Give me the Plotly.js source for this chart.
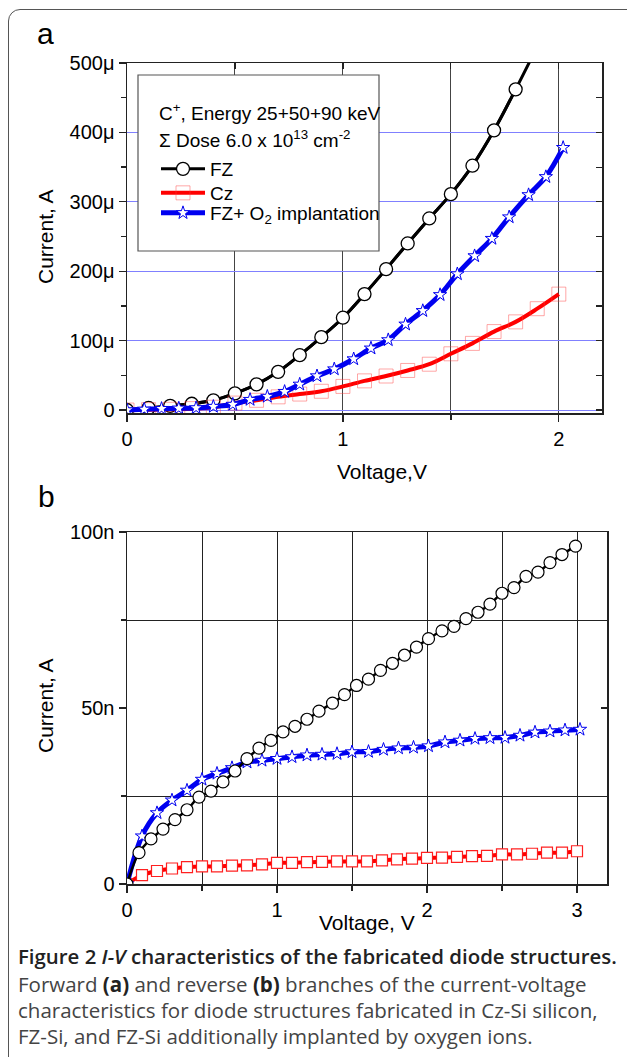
<!DOCTYPE html>
<html>
<head>
<meta charset="utf-8">
<script src="https://cdn.plot.ly/plotly-3.0.1.min.js"></script>
<style>
  html, body { margin: 0; padding: 0; background: #fff; width: 627px; height: 1057px; overflow: hidden; }
  #frame { position: absolute; left: 8px; top: 9px; width: 640px; height: 1080px;
           border: 1.5px solid #555; border-radius: 12px; box-sizing: border-box; }
  #chart { position: absolute; left: 0; top: 0; width: 627px; height: 1057px; }
  #cap { position: absolute; left: 18px; top: 941px; font-family: "Open Sans", sans-serif;
         font-size: 20.5px; line-height: 26px; color: #444; white-space: nowrap; }
  #cap .head { font-size: 20.4px; font-weight: 600; color: #222; line-height: 30px; }
  #cap b { color: #222; font-weight: 700; }
</style>
</head>
<body>
<div id="frame"></div>
<div id="chart"></div>
<div id="cap"><div class="head">Figure 2 <i>I-V</i> characteristics of the fabricated diode structures.</div>Forward <b>(a)</b> and reverse <b>(b)</b> branches of the current-voltage<br>characteristics for diode structures fabricated in Cz-Si silicon,<br>FZ-Si, and FZ-Si additionally implanted by oxygen ions.</div>
<script>
// ---------- Panel a (forward), current in µA ----------
const fzA_V = [0,0.1,0.2,0.3,0.4,0.5,0.6,0.7,0.8,0.9,1.0,1.1,1.2,1.3,1.4,1.5,1.6,1.7,1.8];
const fzA_I = [0,3,6,9,14,24,37,55,79,105,133,167,203,240,276,311,352,403,462];
const fzA_endV = [1.87];   // fitted curve continues to the top of the frame
const fzA_endI = [505];

const czA_V = [0,0.1,0.2,0.3,0.4,0.5,0.6,0.7,0.8,0.9,1.0,1.1,1.2,1.3,1.4,1.5,1.6,1.7,1.8,1.9,2.0];
const czA_I = [0,0.5,1,2,4,10,14,19,23,27,34,42,49,57,66,81,96,113,127,146,167];

const fzoA_V = [0,0.08,0.16,0.24,0.32,0.40,0.49,0.57,0.65,0.73,0.80,0.88,0.96,1.05,1.13,1.21,1.29,1.37,1.45,1.53,1.61,1.69,1.77,1.86,1.94,2.02];
const fzoA_I = [0,1,2,2.5,3,5,8,15,19.5,26.5,37,49,59,73.5,89,101,123.5,143,166,196,222,247,278,310,336,378];

const yTicksA = [0,100,200,300,400,500];
const yLabelsA = ['0','100\u03bc','200\u03bc','300\u03bc','400\u03bc','500\u03bc'];

// ---------- Panel b (reverse), current in nA ----------
const fzB_V = [0,0.08,0.16,0.24,0.32,0.40,0.48,0.56,0.64,0.72,0.80,0.88,0.96,1.04,1.12,1.20,1.28,1.37,1.45,1.53,1.61,1.69,1.77,1.85,1.93,2.01,2.10,2.18,2.26,2.34,2.42,2.50,2.58,2.66,2.74,2.82,2.90,2.99];
const fzB_I = [0,8.9,12.8,15.6,18.3,21.1,24.7,26.4,29.0,32.1,35.6,38.6,40.8,43.2,44.8,46.8,49.1,51.4,53.8,56.4,58.2,60.7,62.7,65.0,67.3,69.7,71.9,73.2,75.4,77.2,79.5,82.6,84.2,87.4,88.6,91.3,93.6,96.0];

const fzoB_V = [0,0.1,0.2,0.3,0.4,0.5,0.6,0.7,0.8,0.9,1.0,1.1,1.2,1.3,1.4,1.5,1.61,1.71,1.81,1.91,2.01,2.12,2.22,2.32,2.42,2.52,2.62,2.72,2.82,2.92,3.02];
const fzoB_I = [0,13.6,20.2,23.8,26.6,29.7,31.4,33.0,34.6,35.1,35.6,36.1,36.6,36.8,37.0,37.5,37.6,38.2,38.6,38.8,39.2,40.3,40.8,41.3,41.5,41.6,42.2,43.1,43.4,43.7,43.9];

const czB_V = [0,0.1,0.2,0.3,0.4,0.5,0.6,0.7,0.8,0.9,1.0,1.1,1.2,1.3,1.4,1.5,1.6,1.7,1.8,1.9,2.0,2.1,2.2,2.3,2.4,2.5,2.6,2.7,2.8,2.9,3.0];
const czB_I = [0,2.5,3.7,4.4,4.8,5.0,5.0,5.2,5.3,5.6,6.0,6.0,6.2,6.3,6.4,6.4,6.4,6.7,7.0,7.2,7.4,7.5,7.7,7.9,8.0,8.4,8.4,8.6,8.9,8.9,9.3];

const yTicksB = [0,50,100];
const yLabelsB = ['0','50n','100n'];

// ---------- geometry helpers (pixel -> paper) ----------
const W = 627, H = 1057;
const px = v => v / W;
const py = v => 1 - v / H;

const FONT = 'Liberation Sans, Arial, sans-serif';
const BLUE = '#0000f0';

const traces = [
  // panel a
  {x: fzA_V.concat(fzA_endV), y: fzA_I.concat(fzA_endI), xaxis:'x', yaxis:'y', mode:'lines',
   line:{color:'#000', width:3, shape:'spline'}, showlegend:false, hoverinfo:'skip'},
  {x: fzA_V, y: fzA_I, xaxis:'x', yaxis:'y', mode:'lines+markers', name:'FZ', legend:'legend',
   line:{color:'#000', width:3, shape:'spline'},
   marker:{symbol:'circle', size:13, color:'#fff', line:{color:'#000', width:1.3}}},
  {x: czA_V, y: czA_I, xaxis:'x', yaxis:'y', mode:'lines+markers', name:'Cz', legend:'legend2',
   line:{color:'#ff0000', width:4, shape:'spline'},
   marker:{symbol:'square-open', size:14, color:'rgba(255,60,60,0.45)', line:{width:1}}},
  {x: fzoA_V, y: fzoA_I, xaxis:'x', yaxis:'y', mode:'lines+markers', name:'FZ+ O<sub>2</sub> implantation', legend:'legend3',
   line:{color:BLUE, width:5, shape:'spline'},
   marker:{symbol:'star', size:10, color:'#fff', line:{color:BLUE, width:1}}},
  // panel b
  {x: czB_V, y: czB_I, xaxis:'x2', yaxis:'y2', mode:'lines+markers', showlegend:false,
   line:{color:'#ff0000', width:4, shape:'spline'},
   marker:{symbol:'square', size:11, color:'#fff', line:{color:'#ff2020', width:1.2}}},
  {x: fzoB_V, y: fzoB_I, xaxis:'x2', yaxis:'y2', mode:'lines+markers', showlegend:false,
   line:{color:BLUE, width:5, shape:'spline'},
   marker:{symbol:'star', size:10, color:'#fff', line:{color:BLUE, width:1}}},
  {x: fzB_V, y: fzB_I, xaxis:'x2', yaxis:'y2', mode:'lines+markers', showlegend:false,
   line:{color:'#000', width:2.5, shape:'spline'},
   marker:{symbol:'circle', size:12, color:'#fff', line:{color:'#000', width:1.2}}},
  // empty traces that carry the inward-tick frame axes (top / right)
  {x: [], y: [], xaxis:'x3', yaxis:'y3', mode:'markers', showlegend:false, hoverinfo:'skip'},
  {x: [], y: [], xaxis:'x4', yaxis:'y4', mode:'markers', showlegend:false, hoverinfo:'skip'}
];

const axBase = {
  showline:true, linecolor:'#222', linewidth:1.5, mirror:true, zeroline:false,
  ticks:'outside', ticklen:7, tickwidth:1.3, tickcolor:'#222',
  tickfont:{family:FONT, size:20, color:'#000'}, fixedrange:true
};
const frameAx = {
  showline:false, zeroline:false, showgrid:false, showticklabels:false,
  ticks:'inside', ticklen:6, tickwidth:1.2, tickcolor:'#222', fixedrange:true
};

const legBase = {
  xanchor:'left', yanchor:'top', bgcolor:'rgba(0,0,0,0)', borderwidth:0,
  itemwidth:44, font:{family:FONT, size:19, color:'#000'}
};

const ann = (text, x, y, extra) => Object.assign({
  text: text, x: px(x), y: py(y), xref:'paper', yref:'paper', showarrow:false,
  xanchor:'center', yanchor:'middle', font:{family:FONT, size:21, color:'#000'}
}, extra || {});

const layout = {
  width: W, height: H,
  margin:{l:0, r:0, t:0, b:0},
  paper_bgcolor:'rgba(0,0,0,0)', plot_bgcolor:'#fff',
  font:{family:FONT, color:'#000'},
  xaxis: Object.assign({}, axBase, {
    domain:[px(127), px(602)], anchor:'y', range:[0,2.2], tickvals:[0,1,2],
    showgrid:true, gridcolor:'#444', gridwidth:1,
    minor:{tickvals:[0.5,1.5], ticks:'outside', ticklen:5, showgrid:true, gridcolor:'#444', gridwidth:1}
  }),
  yaxis: Object.assign({}, axBase, {
    domain:[py(413), py(63)], anchor:'x', range:[-4.3,500],
    tickvals:yTicksA, ticktext:yLabelsA,
    showgrid:true, gridcolor:'#8080ff', gridwidth:1,
    minor:{dtick:50, ticks:'outside', ticklen:5, showgrid:false}
  }),
  xaxis3: Object.assign({}, frameAx, {
    overlaying:'x', side:'top', anchor:'y3', range:[0,2.2], tickvals:[0.5,1,1.5,2]
  }),
  yaxis3: Object.assign({}, frameAx, {
    overlaying:'y', side:'right', anchor:'x3', range:[-4.3,500],
    tickvals:[0,50,100,150,200,250,300,350,400,450]
  }),
  xaxis2: Object.assign({}, axBase, {
    domain:[px(127), px(607)], anchor:'y2', range:[0,3.2], tickvals:[0,1,2,3],
    showgrid:true, gridcolor:'#222', gridwidth:1,
    minor:{tickvals:[0.5,1.5,2.5], ticks:'outside', ticklen:5, showgrid:true, gridcolor:'#222', gridwidth:1}
  }),
  yaxis2: Object.assign({}, axBase, {
    domain:[py(884), py(532)], anchor:'x2', range:[0,100],
    tickvals:yTicksB, ticktext:yLabelsB, showgrid:false,
    minor:{tickvals:[25,75], ticks:'outside', ticklen:5, showgrid:true, gridcolor:'#222', gridwidth:1}
  }),
  xaxis4: Object.assign({}, frameAx, {
    overlaying:'x2', side:'top', anchor:'y4', range:[0,3.2], tickvals:[], ticks:''
  }),
  yaxis4: Object.assign({}, frameAx, {
    overlaying:'y2', side:'right', anchor:'x4', range:[0,100], tickvals:[50]
  }),
  showlegend:true,
  legend:  Object.assign({}, legBase, {x: px(156), y: py(150)}),
  legend2: Object.assign({}, legBase, {x: px(156), y: py(174)}),
  legend3: Object.assign({}, legBase, {x: px(156), y: py(194)}),
  shapes:[
    {type:'rect', xref:'paper', yref:'paper', x0:px(138), x1:px(379), y0:py(251), y1:py(75),
     fillcolor:'#fff', line:{color:'#555', width:1.2}, layer:'above'}
  ],
  annotations:[
    ann('a', 45, 33, {font:{family:FONT, size:30, color:'#000'}}),
    ann('b', 46, 497, {font:{family:FONT, size:30, color:'#000'}}),
    ann('Current, A', 45, 237, {textangle:-90}),
    ann('Voltage,V', 382, 471),
    ann('Current, A', 45, 706, {textangle:-90}),
    ann('Voltage, V', 367, 922),
    ann('C<sup>+</sup>, Energy 25+50+90 keV', 157, 112, {xanchor:'left', font:{family:FONT, size:19, color:'#000'}}),
    ann('\u03a3 Dose 6.0 x 10<sup>13</sup> cm<sup>-2</sup>', 157, 139, {xanchor:'left', font:{family:FONT, size:19, color:'#000'}})
  ]
};

Plotly.newPlot('chart', traces, layout, {displayModeBar:false, staticPlot:true});
</script>
</body>
</html>
